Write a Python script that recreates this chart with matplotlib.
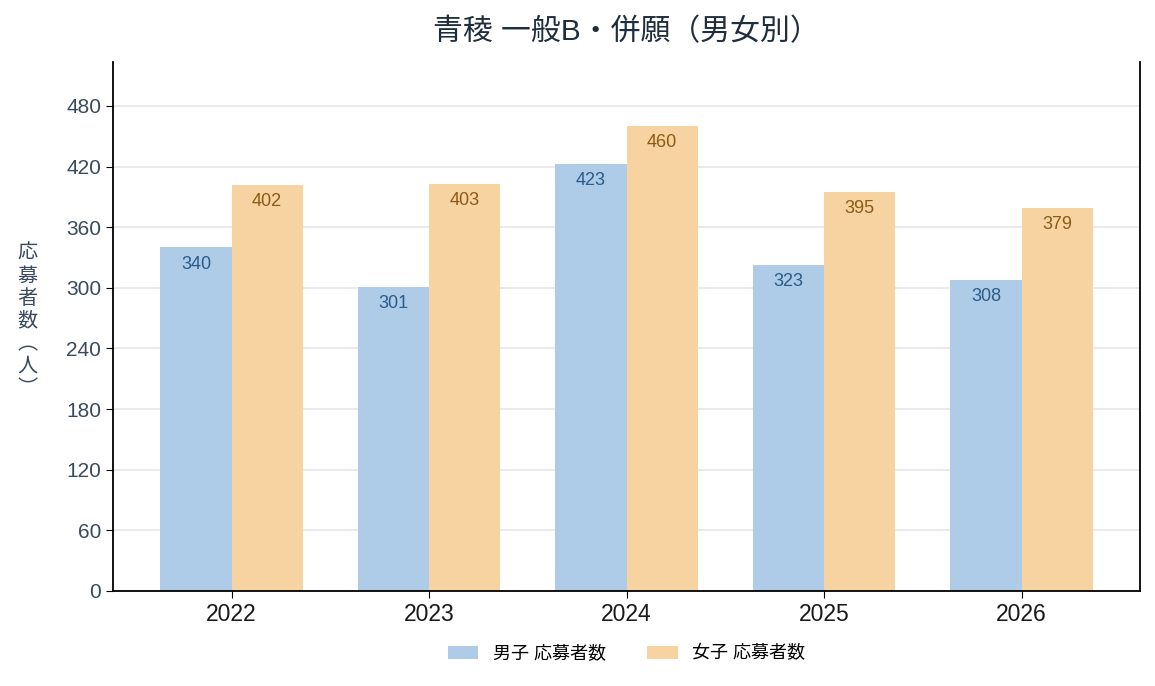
import numpy as np
import matplotlib
matplotlib.use("Agg")
import matplotlib.pyplot as plt

plt.rcParams['font.family'] = ['Liberation Sans', 'Noto Sans CJK JP', 'DejaVu Sans']

years = ["2022", "2023", "2024", "2025", "2026"]
boys = [340, 301, 423, 323, 308]
girls = [402, 403, 460, 395, 379]
series_names = ["男子 応募者数", "女子 応募者数"]
y_label = "応募者数︵人︶"

blue = "#aecbe7"
orange = "#f6d3a0"
text_col = "#3a4a5e"

fig = plt.figure(figsize=(11.55, 6.86), dpi=100)
ax = fig.add_axes([113 / 1155, 1 - 591 / 686, (1140 - 113) / 1155, (591 - 62) / 686])

x = np.arange(len(years))
w = 0.36
b1 = ax.bar(x - w / 2, boys, w, color=blue, label=series_names[0], zorder=2)
b2 = ax.bar(x + w / 2, girls, w, color=orange, label=series_names[1], zorder=2)

for rect, v in zip(b1, boys):
    ax.annotate(str(v), (rect.get_x() + rect.get_width() / 2, v), xytext=(0, -6),
                textcoords="offset points", ha="center", va="top",
                fontsize=13, color="#2b5c8a")
for rect, v in zip(b2, girls):
    ax.annotate(str(v), (rect.get_x() + rect.get_width() / 2, v), xytext=(0, -6),
                textcoords="offset points", ha="center", va="top",
                fontsize=13, color="#8a5c16")

ax.set_xlim(-0.6, len(years) - 0.4)
ax.set_ylim(0, max(girls) * 1.138)
ax.set_yticks(np.arange(0, 481, 60))
ax.set_xticks(x)
ax.set_xticklabels(years, fontsize=16.5, color="#1a1a1a")
ax.tick_params(axis="y", labelsize=15, labelcolor=text_col, length=5)
ax.tick_params(axis="x", length=5)
ax.grid(axis="y", color="#e6e6e6", linewidth=1.2, zorder=0)
ax.set_axisbelow(True)
ax.spines["top"].set_visible(False)
for s in ["left", "right", "bottom"]:
    ax.spines[s].set_linewidth(1.3)
    ax.spines[s].set_color("black")

ax.set_ylabel("\n".join(y_label), rotation=0, fontsize=14.5, family=["Noto Sans CJK JP"],
              color=text_col, va="center", ha="center", linespacing=1.1)
ax.yaxis.set_label_coords(-0.083, 0.51)

ax.set_title("青稜 一般B・併願（男女別）", fontsize=21.5, color="#1f2d3d", pad=16)

ax.legend(loc="upper center", bbox_to_anchor=(0.5, -0.072), ncol=2, frameon=False,
          fontsize=13, handlelength=1.7, handleheight=0.75, columnspacing=2.3)

fig.savefig("out.png", dpi=100)
